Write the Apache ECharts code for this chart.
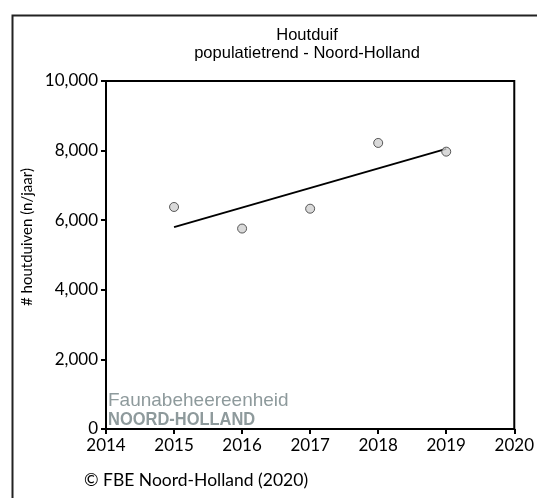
<!DOCTYPE html>
<html>
<head>
<meta charset="utf-8">
<script src="https://cdn.jsdelivr.net/npm/echarts@6/dist/echarts.min.js"></script>
<style>html,body{margin:0;padding:0;background:#fff}#c{width:537px;height:498px}</style>
</head>
<body>
<div id="c"></div>
<script>
var years = [2015, 2016, 2017, 2018, 2019];
var counts = [6380, 5760, 6330, 8220, 7970];
var trendYears = [2015, 2019];
var trendValues = [5800, 8050];
var xTicks = [2014, 2015, 2016, 2017, 2018, 2019, 2020];
var yTicks = [0, 2000, 4000, 6000, 8000, 10000];

var chart = echarts.init(document.getElementById('c'), null, {renderer: 'canvas'});
var tickFont = 'Lato, "Open Sans", sans-serif';
chart.setOption({
  animation: false,
  grid: {left: 106, right: 16, top: 81, bottom: 69, show: true, borderColor: '#000', borderWidth: 2, backgroundColor: 'transparent'},
  xAxis: {
    type: 'value', min: xTicks[0], max: xTicks[xTicks.length - 1], interval: 1,
    axisLine: {show: true, onZero: false, lineStyle: {color: '#000', width: 2}},
    axisTick: {show: true, length: 5, lineStyle: {color: '#000', width: 2}},
    axisLabel: {color: '#000', fontSize: 17, fontFamily: tickFont, margin: 8, formatter: function (v) { return String(v); }},
    splitLine: {show: false}
  },
  yAxis: {
    type: 'value', min: yTicks[0], max: yTicks[yTicks.length - 1], interval: 2000,
    axisLine: {show: true, lineStyle: {color: '#000', width: 2}},
    axisTick: {show: true, length: 5, lineStyle: {color: '#000', width: 2}},
    axisLabel: {color: '#000', fontSize: 17, fontFamily: tickFont, margin: 8,
      formatter: function (v) { return v.toLocaleString('en-US'); }},
    splitLine: {show: false}
  },
  series: [
    {
      type: 'line', data: trendYears.map(function (y, i) { return [y, trendValues[i]]; }),
      symbol: 'none', lineStyle: {color: '#000', width: 2}, z: 2, silent: true
    },
    {
      type: 'scatter', data: years.map(function (y, i) { return [y, counts[i]]; }),
      symbol: 'circle', symbolSize: 9,
      itemStyle: {color: '#d0d0d0', borderColor: '#333', borderWidth: 1}, z: 3
    }
  ],
  graphic: [
    {type: 'rect', left: 10, top: 13, z: 100, silent: true,
     shape: {x: 0, y: 0, width: 600, height: 600},
     style: {fill: 'none', stroke: '#222', lineWidth: 2}},
    {type: 'text', x: 307, y: 35, z: 100,
     style: {text: 'Houtduif', font: '16.5px "Liberation Sans", Arial, sans-serif', fill: '#000', textAlign: 'center', textVerticalAlign: 'middle'}},
    {type: 'text', x: 307, y: 53, z: 100,
     style: {text: 'populatietrend - Noord-Holland', font: '16.5px "Liberation Sans", Arial, sans-serif', fill: '#000', textAlign: 'center', textVerticalAlign: 'middle'}},
    {type: 'text', x: 27, y: 237, rotation: Math.PI / 2, z: 100,
     style: {text: '# houtduiven (n/jaar)', font: '15px Lato, "Open Sans", sans-serif', fill: '#000', textAlign: 'center', textVerticalAlign: 'middle'}},
    {type: 'text', x: 108, y: 401, z: 100,
     style: {text: 'Faunabeheereenheid', font: '19px "Liberation Sans", Arial, sans-serif', fill: '#8e9a9c', textAlign: 'left', textVerticalAlign: 'middle'}},
    {type: 'text', x: 108, y: 420, scaleX: 0.89, z: 100,
     style: {text: 'NOORD-HOLLAND', font: 'bold 18.5px "Liberation Sans", Arial, sans-serif', fill: '#8e9a9c', textAlign: 'left', textVerticalAlign: 'middle'}},
    {type: 'text', x: 84, y: 480, z: 100,
     style: {text: '© FBE Noord-Holland (2020)', font: '17.5px Lato, "Open Sans", sans-serif', fill: '#000', textAlign: 'left', textVerticalAlign: 'middle'}}
  ]
});
</script>
</body>
</html>
